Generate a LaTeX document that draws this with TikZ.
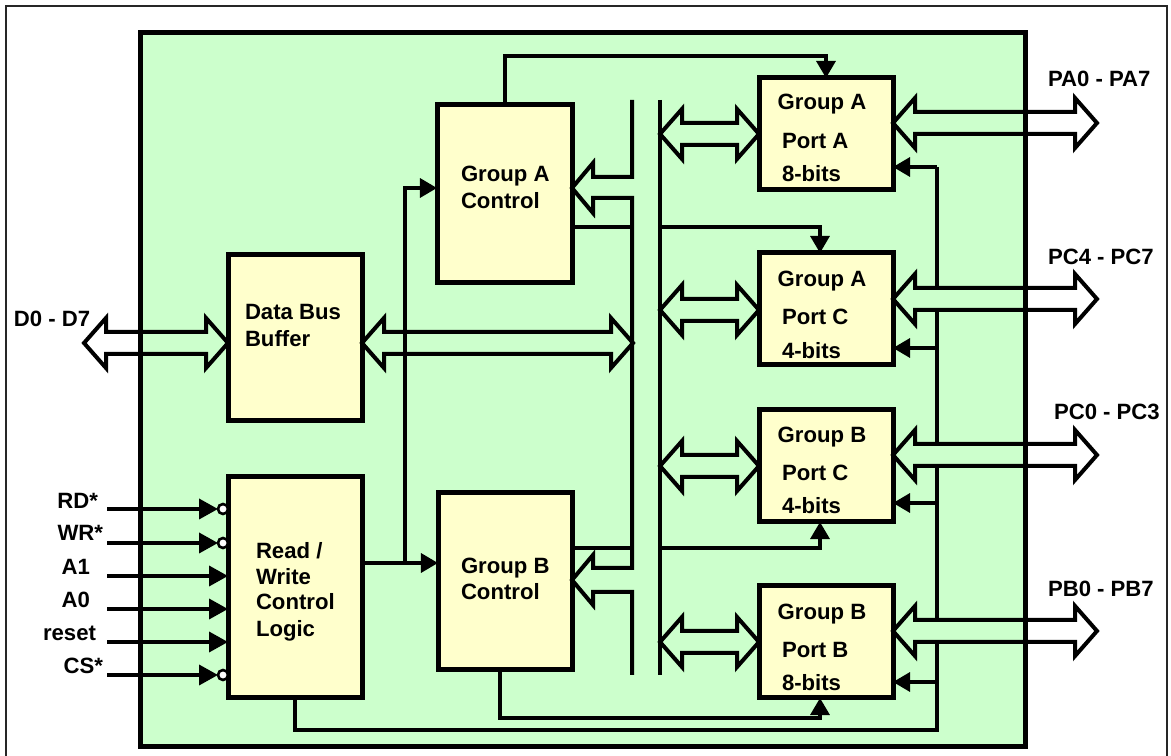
\documentclass[tikz,border=0pt]{standalone}
\usepackage{fontspec}
\setmainfont{Liberation Sans}
\usetikzlibrary{arrows.meta}
\definecolor{bggreen}{HTML}{CCFFCC}
\definecolor{boxyellow}{HTML}{FFFFCC}
\newlength\pu \setlength\pu{0.02cm}
\newcommand\DblArrow[3]{% x1 x2 y
  \draw[hollow] (#1,#3) -- ++(22,-25) -- ++(0,14) -- ({#2-22},{#3-11}) -- ++(0,-14) -- (#2,#3)
    -- ({#2-22},{#3+25}) -- ++(0,-14) -- ({#1+22},{#3+11}) -- ++(0,14) -- cycle;}
\begin{document}
\begin{tikzpicture}[x=0.02cm,y=-0.02cm,
  blk/.style={draw, fill=boxyellow, line width=5\pu, inner sep=0, outer sep=0, anchor=north west},
  portbox/.style={blk, minimum width=134\pu, minimum height=112\pu},
  wire/.style={line width=3.5\pu},
  tri/.style={wire, -{Triangle[length=9.7pt,width=10.8pt]}},
  intri/.style={wire, -{Triangle[length=10.8pt,width=11.4pt]}},
  bubble/.style={circle, draw, fill=white, line width=2.6\pu, minimum size=10\pu, inner sep=0, outer sep=0},
  hollow/.style={line width=4\pu, line join=miter, miter limit=10},
  lbl/.style={font=\bfseries\fontsize{12.6}{14}\selectfont, inner sep=0, outer sep=0},
]
\useasboundingbox (0,0) rectangle (1171,756);
% outer frame
\draw[line width=2\pu, black!85] (6,770) -- (6,6) -- (1167,6) -- (1167,770);
% green chip area
\path[fill=bggreen] (140,33) rectangle (1025,747);

% blocks
\node[blk, minimum width=134\pu, minimum height=166\pu] (dbb) at (228,255) {};
\node[blk, minimum width=134\pu, minimum height=221\pu] (rw) at (228,477) {};
\node[blk, minimum width=135\pu, minimum height=178\pu] (gac) at (437,105) {};
\node[blk, minimum width=134\pu, minimum height=177\pu] (gbc) at (438,493) {};
\node[portbox] (pa) at (759,78) {};
\node[portbox] (pca) at (759,253) {};
\node[portbox] (pcb) at (759,410) {};
\node[portbox] (pb) at (759,586) {};

% block texts
\node[lbl, anchor=base west] (t1) at (245,320) {Data Bus};
\node[lbl, anchor=base west] (t2) at (245,347) {Buffer};
\node[lbl, anchor=base west] (t3) at (461,182) {Group A};
\node[lbl, anchor=base west] (t4) at (461,209) {Control};
\node[lbl, anchor=base west] (t5) at (461,574) {Group B};
\node[lbl, anchor=base west] (t6) at (461,600) {Control};
\node[lbl, anchor=base west] (t7) at (256,559) {Read /};
\node[lbl, anchor=base west] (t8) at (256,585) {Write};
\node[lbl, anchor=base west] (t9) at (256,610) {Control};
\node[lbl, anchor=base west] (t10) at (256,637) {Logic};

\node[lbl, anchor=base] (pa1) at (822,110) {Group A};
\node[lbl, anchor=base west] (pa2) at (782,149) {Port A};
\node[lbl, anchor=base west] (pa3) at (782,182) {8-bits};
\node[lbl, anchor=base] (pca1) at (822,287) {Group A};
\node[lbl, anchor=base west] (pca2) at (782,325) {Port C};
\node[lbl, anchor=base west] (pca3) at (782,359) {4-bits};
\node[lbl, anchor=base] (pcb1) at (822,443) {Group B};
\node[lbl, anchor=base west] (pcb2) at (782,481) {Port C};
\node[lbl, anchor=base west] (pcb3) at (782,514) {4-bits};
\node[lbl, anchor=base] (pb1) at (822,620) {Group B};
\node[lbl, anchor=base west] (pb2) at (782,658) {Port B};
\node[lbl, anchor=base west] (pb3) at (782,691) {8-bits};

% external labels
\node[lbl, anchor=base] (d07) at (52,327) {D0 - D7};
\node[lbl, anchor=base west] (lpa) at (1048,87) {PA0 - PA7};
\node[lbl, anchor=base west] (lpch) at (1048,265) {PC4 - PC7};
\node[lbl, anchor=base west] (lpcl) at (1054,420) {PC0 - PC3};
\node[lbl, anchor=base west] (lpb) at (1048,597) {PB0 - PB7};

% input labels
\node[lbl, anchor=base east] (lrd) at (98,509) {RD*};
\node[lbl, anchor=base east] (lwr) at (103,541) {WR*};
\node[lbl, anchor=base east] (la1) at (90,575) {A1};
\node[lbl, anchor=base east] (la0) at (90,608) {A0};
\node[lbl, anchor=base east] (lrs) at (96,641) {reset};
\node[lbl, anchor=base east] (lcs) at (103,674) {CS*};

% input arrows
\coordinate (ird) at (107,509);
\coordinate (iwr) at (107,543);
\coordinate (ia1) at (107,576);
\coordinate (ia0) at (107,609);
\coordinate (irs) at (107,642);
\coordinate (ics) at (107,675);
\node[bubble] (brd) at (223,509) {};
\node[bubble] (bwr) at (223,543) {};
\node[bubble] (bcs) at (223,675) {};
\draw[intri] (ird) -- (brd.west);
\draw[intri] (iwr) -- (bwr.west);
\draw[intri] (ics) -- (bcs.west);
\draw[intri] (ia1) -- (ia1 -| rw.west);
\draw[intri] (ia0) -- (ia0 -| rw.west);
\draw[intri] (irs) -- (irs -| rw.west);

% buses
\draw[hollow] (632,100) -- (632,177) -- (593,177) -- (593,163) -- (572,188) -- (593,213) -- (593,198)
  -- (632,198) -- (632,568) -- (593,568) -- (593,555) -- (572,580) -- (593,605) -- (593,592)
  -- (632,592) -- (632,675);
\draw[hollow] (660,100) coordinate (rbtop) -- (660,675) coordinate (rbbot);

% hollow double arrows
\DblArrow{84}{228}{343}
\DblArrow{362}{633}{343}
\DblArrow{660}{759}{134}
\DblArrow{660}{759}{310}
\DblArrow{660}{759}{466}
\DblArrow{660}{759}{642}
\DblArrow{893}{1097}{123}
\DblArrow{893}{1097}{299}
\DblArrow{893}{1097}{455}
\DblArrow{893}{1097}{631}

% control wires
\coordinate (rwout) at (362,563);
\draw[tri] (rwout) -- (rwout -| gbc.west);
\draw[tri] (405,563) -- (405,188) -- (gac.west |- 0,188);
\draw[wire] (gac.east |- 0,227) -- (632,227);
\draw[wire] (gbc.east |- 0,548) -- (632,548);
\draw[tri] (660,227) -- (820,227) -- (pca.north -| 820,0);
\draw[tri] (660,548) -- (820,548) -- (pcb.south -| 820,0);
\draw[tri] (gac.north -| 505,0) -- (505,56) -- (826,56) -- (pa.north -| 826,0);
\draw[tri] (gbc.south -| 500,0) -- (500,718) -- (820,718) -- (pb.south -| 820,0);
\draw[wire] (rw.south -| 295,0) -- (295,730) -- (937,730) -- (937,642);
\draw[wire] (937,620) -- (937,466);
\draw[wire] (937,444) -- (937,310);
\draw[wire] (937,288) -- (937,167);
\draw[tri] (937,167) -- (pa.east |- 0,167);
\draw[tri] (937,348) -- (pca.east |- 0,348);
\draw[tri] (937,503) -- (pcb.east |- 0,503);
\draw[tri] (937,682) -- (pb.east |- 0,682);

% chip border on top
\draw[line width=5\pu] (140,33) rectangle (1025,747);
\end{tikzpicture}
\end{document}
